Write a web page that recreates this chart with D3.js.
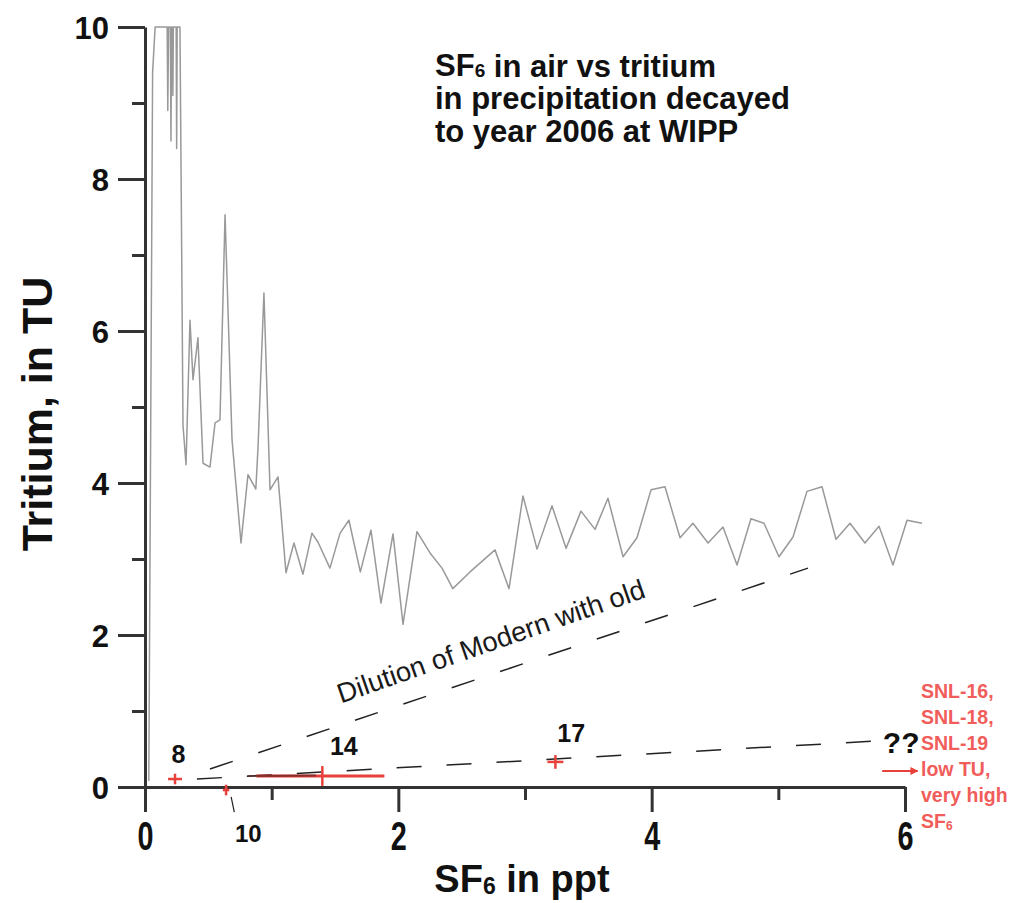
<!DOCTYPE html>
<html><head><meta charset="utf-8">
<script src="https://cdn.jsdelivr.net/npm/d3@7"></script>
<style>body{margin:0;background:#fff;} svg{display:block;font-family:"Liberation Sans",Arial,Helvetica,sans-serif;}</style>
</head><body><svg id="c" width="1023" height="903"></svg>
<script>
// ---- data ----
const sf6 = [0.03,0.06,0.08,0.175,0.18,0.186,0.2,0.205,0.21,0.216,0.22,0.224,0.246,0.25,0.254,0.276,
  0.30,0.324,0.355,0.379,0.418,0.458,0.513,0.553,0.592,0.632,0.687,0.758,0.813,0.875,0.892,0.939,0.987,1.05,
  1.113,1.176,1.247,1.318,1.366,1.46,1.54,1.61,1.70,1.784,1.863,1.958,2.037,2.147,2.25,2.345,2.43,2.566,2.763,
  2.874,2.984,3.095,3.213,3.324,3.442,3.553,3.655,3.774,3.884,3.995,4.105,4.224,4.326,4.445,4.563,4.674,4.784,
  4.887,5.005,5.116,5.226,5.345,5.455,5.566,5.684,5.795,5.905,6.016,6.134];
const tritium = [0.08,9.4,10,10,8.9,10,10,8.5,10,10,9.1,10,10,8.4,10,10,
  4.76,4.24,6.14,5.36,5.91,4.26,4.21,4.79,4.83,7.53,4.57,3.21,4.11,3.92,4.46,6.5,3.91,4.08,
  2.82,3.21,2.80,3.34,3.22,2.88,3.34,3.51,2.83,3.38,2.42,3.33,2.14,3.36,3.08,2.88,2.61,2.83,3.12,
  2.61,3.83,3.13,3.70,3.14,3.63,3.39,3.80,3.03,3.28,3.91,3.95,3.28,3.47,3.21,3.42,2.92,3.53,
  3.47,3.03,3.29,3.89,3.95,3.26,3.47,3.21,3.43,2.92,3.51,3.47];

const xTicks = [0,2,4,6], xMinor = [1,3,5];
const yTicks = [0,2,4,6,8,10], yMinor = [1,3,5,7,9];

const sampleIds  = ["8","10","14","17"];
const sampleSF6  = [0.237,0.64,1.40,3.24];
const sampleTU   = [0.105,-0.04,0.145,0.33];
const sampleXlo  = [0.182,0.615,0.88,3.177];
const sampleXhi  = [0.292,0.665,1.89,3.303];
const sampleYerr = [0.07,0.07,0.13,0.09];
const overlap14  = [[0.81,0.145],[1.35,0.15]];

const dilutionUpper = [[0.513,0.237],[5.234,2.88]];
const dilutionLower = [[0.41,0.105],[5.78,0.605]];

const titleLines = ["SF|6| in air vs tritium","in precipitation decayed","to year 2006 at WIPP"];
const noteLines = ["SNL-16,","SNL-18,","SNL-19","low TU,","very high","SF|6"];

// ---- chart ----
const svg = d3.select("#c");
const x = d3.scaleLinear().domain([0,6]).range([145,905]);
const y = d3.scaleLinear().domain([0,10]).range([787,27]);
const axisCol = "#333";

svg.append("defs").append("clipPath").attr("id","clip")
  .append("rect").attr("x",x(0)).attr("y",y(10)-1).attr("width",x(6.3)-x(0)).attr("height",y(0)-y(10)+2);
const red = "#e8403a";
svg.select("defs").append("marker").attr("id","arr").attr("viewBox","0 0 10 10").attr("refX",9).attr("refY",5)
  .attr("markerWidth",4).attr("markerHeight",4).attr("orient","auto")
  .append("path").attr("d","M0,0L10,5L0,10Z").attr("fill",red);

// data line
const pts = sf6.map((v,i)=>[v,tritium[i]]);
svg.append("path").datum(pts).attr("clip-path","url(#clip)")
  .attr("fill","none").attr("stroke","#999").attr("stroke-width",1.5).attr("stroke-linejoin","round")
  .attr("d", d3.line().x(d=>x(d[0])).y(d=>y(d[1])));

// axes
function styleAxis(g){
  g.select(".domain").attr("stroke",axisCol).attr("stroke-width",3);
  g.selectAll(".tick line").attr("stroke",axisCol).attr("stroke-width",3);
}
const gyMinor = svg.append("g").attr("transform",`translate(${x(0)},0)`)
  .call(d3.axisLeft(y).tickValues(yMinor).tickSize(13).tickSizeOuter(0).tickFormat(""));
styleAxis(gyMinor); gyMinor.select(".domain").remove();
const gxMinor = svg.append("g").attr("transform",`translate(0,${y(0)})`)
  .call(d3.axisBottom(x).tickValues(xMinor).tickSize(13).tickSizeOuter(0).tickFormat(""));
styleAxis(gxMinor); gxMinor.select(".domain").remove();

const gy = svg.append("g").attr("transform",`translate(${x(0)},0)`)
  .call(d3.axisLeft(y).tickValues(yTicks).tickSize(27).tickSizeOuter(0).tickPadding(9).tickFormat(d3.format("d")));
styleAxis(gy);
gy.selectAll("text").attr("fill","#111").attr("font-size",31).attr("font-weight","bold").attr("dy","0.36em");
const gx = svg.append("g").attr("transform",`translate(0,${y(0)})`)
  .call(d3.axisBottom(x).tickValues(xTicks).tickSize(25).tickSizeOuter(0).tickPadding(10).tickFormat(d3.format("d")));
styleAxis(gx);
gx.selectAll("text").attr("fill","#111").attr("font-size",40).attr("font-weight","bold")
  .attr("transform","scale(0.72,1)");

// axis titles
const xt = svg.append("text").attr("x",522).attr("y",892).attr("text-anchor","middle")
  .attr("font-size",38).attr("font-weight","bold").attr("fill","#111");
xt.append("tspan").text("SF");
xt.append("tspan").attr("font-size",23).attr("dy",2).text("6");
xt.append("tspan").attr("dy",-2).text(" in ppt");

svg.append("text").attr("transform","translate(52,414) rotate(-90)").attr("text-anchor","middle")
  .attr("font-size",43).attr("font-weight","bold").attr("fill","#111").text("Tritium, in TU");

// title
function richText(sel, str, subSize, subDy){
  str.split("|").forEach((part,i)=>{
    if(!part) return;
    if(i%2===1){ sel.append("tspan").attr("font-size",subSize).attr("dy",subDy).text(part);
                 sel.append("tspan").attr("dy",-subDy).text(""); }
    else sel.append("tspan").text(part);
  });
}
titleLines.forEach((l,i)=>{
  const t = svg.append("text").attr("x",435).attr("y",76+i*33).attr("font-size",31)
    .attr("font-weight","bold").attr("fill","#111");
  richText(t,l,19,1);
});

// dilution lines
svg.append("line").attr("x1",x(dilutionUpper[0][0])).attr("y1",y(dilutionUpper[0][1]))
  .attr("x2",x(dilutionUpper[1][0])).attr("y2",y(dilutionUpper[1][1]))
  .attr("stroke","#222").attr("stroke-width",1.5).attr("stroke-dasharray","24,27");
svg.append("line").attr("x1",x(dilutionLower[0][0])).attr("y1",y(dilutionLower[0][1]))
  .attr("x2",x(dilutionLower[1][0])).attr("y2",y(dilutionLower[1][1]))
  .attr("stroke","#222").attr("stroke-width",1.5).attr("stroke-dasharray","25,25");

const ang = Math.atan2(y(dilutionUpper[1][1])-y(dilutionUpper[0][1]), x(dilutionUpper[1][0])-x(dilutionUpper[0][0]))*180/Math.PI;
svg.append("text").attr("transform",`translate(${x(2.755)},${y(1.8)}) rotate(${ang-0.6})`)
  .attr("text-anchor","middle").attr("font-size",27.5).attr("fill","#1a1a1a").text("Dilution of Modern with old");

// sample markers
sampleIds.forEach((id,i)=>{
  const g = svg.append("g");
  g.append("line").attr("x1",x(sampleXlo[i])).attr("x2",x(sampleXhi[i]))
    .attr("y1",y(sampleTU[i])).attr("y2",y(sampleTU[i]))
    .attr("stroke",red).attr("stroke-width", id==="14"?3:2.5);
  g.append("line").attr("x1",x(sampleSF6[i])).attr("x2",x(sampleSF6[i]))
    .attr("y1",y(sampleTU[i]-sampleYerr[i])).attr("y2",y(sampleTU[i]+sampleYerr[i]))
    .attr("stroke",red).attr("stroke-width",2.5);
});
svg.append("line").attr("x1",x(overlap14[0][0])).attr("y1",y(overlap14[0][1]))
  .attr("x2",x(overlap14[1][0])).attr("y2",y(overlap14[1][1]))
  .attr("stroke","#5a2a2a").attr("stroke-width",2).attr("opacity",0.7);

// sample labels
const lab = (txt,xv,yv,fs,bold)=>svg.append("text").attr("x",x(xv)).attr("y",y(yv)).attr("text-anchor","middle")
  .attr("font-size",fs).attr("font-weight",bold?"bold":"normal").attr("fill","#111").text(txt);
lab("8",0.265,0.31,25,true);
lab("14",1.57,0.42,25,true);
lab("17",3.365,0.59,25,true);
lab("10",0.815,-0.72,24,true);
svg.append("line").attr("x1",x(0.68)).attr("y1",y(-0.13)).attr("x2",x(0.705)).attr("y2",y(-0.33))
  .attr("stroke","#222").attr("stroke-width",1.2);
lab("??",5.97,0.45,30,true);

// red note
svg.append("line").attr("x1",x(5.82)).attr("y1",y(0.21)).attr("x2",x(6.1)).attr("y2",y(0.21))
  .attr("stroke",red).attr("stroke-width",2).attr("marker-end","url(#arr)");
noteLines.forEach((l,i)=>{
  const t = svg.append("text").attr("x",921).attr("y",698+i*26).attr("font-size",19.5)
    .attr("font-weight","bold").attr("fill","#f05d5a");
  richText(t,l,12,2);
});
</script></body></html>
